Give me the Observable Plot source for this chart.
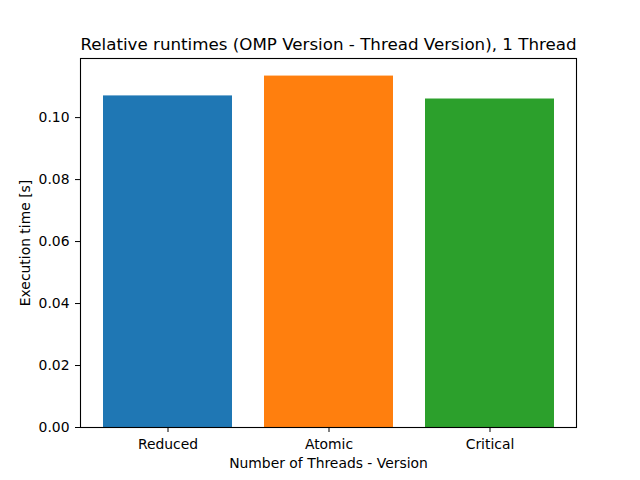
<!DOCTYPE html>
<html>
<head>
<meta charset="utf-8">
<script src="https://cdn.jsdelivr.net/npm/d3@7"></script>
<script src="https://cdn.jsdelivr.net/npm/@observablehq/plot@0.6"></script>
<style>
  html, body { margin: 0; padding: 0; background: #fff; }
</style>
</head>
<body>
<div id="chart"></div>
<script>
const versions = ["Reduced", "Atomic", "Critical"];
const runtimes = [0.1070, 0.1134, 0.1060];
const colors = ["#1f77b4", "#ff7f0e", "#2ca02c"];
const yTicks = [0.00, 0.02, 0.04, 0.06, 0.08, 0.10];
const titleText = "Relative runtimes (OMP Version - Thread Version), 1 Thread";
const xLabel = "Number of Threads - Version";
const yLabel = "Execution time [s]";

const data = versions.map((v, i) => ({version: v, value: runtimes[i]}));
const yMax = d3.max(runtimes) * 1.05;

const chart = Plot.plot({
  width: 640,
  height: 480,
  marginLeft: 80,
  marginRight: 64,
  marginTop: 58,
  marginBottom: 53,
  style: {fontFamily: "DejaVu Sans", fontSize: "13.9px", color: "black", background: "white"},
  x: {domain: versions, paddingInner: 0.2, paddingOuter: 0.14},
  y: {domain: [0, yMax]},
  color: {domain: versions, range: colors},
  marks: [
    Plot.barY(data, {x: "version", y: "value", fill: "version"}),
    Plot.frame({stroke: "black", strokeWidth: 1.1}),
    Plot.axisY({ticks: yTicks, tickFormat: d3.format(".2f"), tickSize: 5, tickPadding: 6, label: yLabel, labelAnchor: "center", labelArrow: "none", labelOffset: 60, fontSize: 13.9}),
    Plot.axisX({tickSize: 5, tickPadding: 7, label: xLabel, labelAnchor: "center", labelArrow: "none", labelOffset: 40, fontSize: 13.9}),
    Plot.text([titleText], {frameAnchor: "top", dy: -9, lineAnchor: "bottom", fontSize: 16.7, fill: "black"})
  ]
});
document.getElementById("chart").appendChild(chart);
</script>
</body>
</html>
